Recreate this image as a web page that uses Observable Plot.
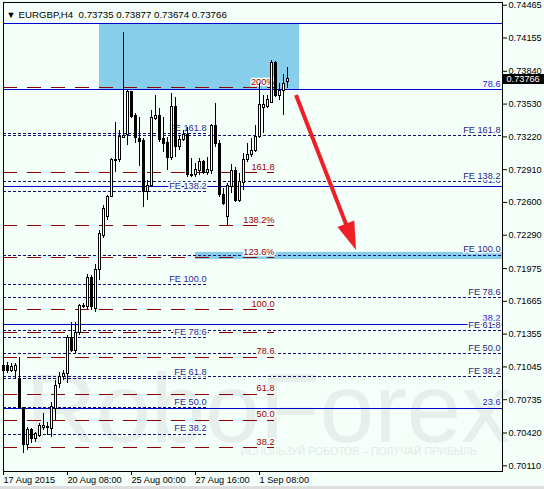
<!DOCTYPE html>
<html><head><meta charset="utf-8">
<script src="https://cdn.jsdelivr.net/npm/d3@7"></script>
<script src="https://cdn.jsdelivr.net/npm/@observablehq/plot@0.6"></script>
<style>
html,body{margin:0;padding:0;background:#dedede;}
#chart{width:544px;height:489px;overflow:hidden;}
svg{display:block;}
</style></head><body><div id="chart"></div>
<script>
// ---- candle data (EURGBP H4) ----
const opens = [0.71049,0.71052,0.71005,0.71005,0.70932,0.70658,0.70302,0.70444,0.70365,0.70396,
0.70469,0.70466,0.70460,0.70649,0.70879,0.70948,0.70980,0.71320,0.71200,0.71364,
0.71616,0.71610,0.71887,0.71594,0.71963,0.72287,0.72461,0.72656,0.73003,0.72997,
0.73211,0.73233,0.73643,0.73413,0.73201,0.73179,0.72697,0.72754,0.73390,0.73413,
0.73201,0.73160,0.73022,0.73501,0.73123,0.73192,0.73233,0.72864,0.72864,0.72902,
0.72981,0.72877,0.72896,0.73324,0.73154,0.72666,0.72461,0.72744,0.72896,0.72618,
0.72782,0.72997,0.73044,0.73085,0.73217,0.73495,0.73501,0.73539,0.73917,0.73611,
0.73658,0.73735];
const highs = [0.71090,0.71090,0.71080,0.71080,0.71137,0.70664,0.70475,0.70460,0.70428,0.70507,
0.70608,0.70523,0.70712,0.70917,0.70995,0.71011,0.71342,0.71468,0.71468,0.71635,
0.71641,0.71919,0.71909,0.72013,0.72335,0.72571,0.72666,0.73012,0.73359,0.73280,
0.74210,0.73658,0.73649,0.73438,0.73406,0.73201,0.72808,0.73469,0.73611,0.73485,
0.73406,0.73217,0.73627,0.73589,0.73233,0.73280,0.73312,0.73012,0.72965,0.73012,
0.72997,0.73028,0.73337,0.73532,0.73186,0.72729,0.72776,0.72959,0.72934,0.72871,
0.73060,0.73154,0.73201,0.73328,0.73722,0.73611,0.73611,0.73942,0.73936,0.73722,
0.73810,0.73877];
const lows = [0.70885,0.70980,0.70995,0.70932,0.70649,0.70229,0.70255,0.70318,0.70333,0.70381,
0.70444,0.70396,0.70381,0.70538,0.70838,0.70917,0.70885,0.71184,0.71169,0.71342,
0.71594,0.71585,0.71578,0.71563,0.71862,0.72256,0.72429,0.72650,0.72886,0.72981,
0.73201,0.73138,0.73390,0.73160,0.72940,0.72555,0.72618,0.72744,0.73375,0.73170,
0.73075,0.72902,0.72997,0.73028,0.73091,0.73179,0.72839,0.72839,0.72839,0.72855,
0.72864,0.72855,0.72864,0.73123,0.72650,0.72571,0.72382,0.72681,0.72603,0.72603,
0.72713,0.72981,0.73028,0.73075,0.73201,0.73249,0.73485,0.73532,0.73595,0.73564,
0.73422,0.73674];
const closes = [0.71005,0.71005,0.71043,0.71049,0.70658,0.70302,0.70444,0.70365,0.70412,0.70482,
0.70485,0.70478,0.70664,0.70869,0.70948,0.70980,0.71320,0.71200,0.71364,0.71619,
0.71622,0.71887,0.71610,0.71963,0.72297,0.72540,0.72650,0.73003,0.72990,0.73217,
0.73224,0.73649,0.73406,0.73211,0.73170,0.72697,0.72760,0.73400,0.73413,0.73186,
0.73154,0.73022,0.73507,0.73123,0.73195,0.73233,0.72855,0.72848,0.72908,0.72981,
0.72877,0.72908,0.73324,0.73154,0.72666,0.72587,0.72760,0.72896,0.72618,0.72792,
0.72997,0.73050,0.73085,0.73217,0.73517,0.73517,0.73564,0.73917,0.73611,0.73658,
0.73722,0.73766];

// ---- axes ----
const yTicks = [0.74465,0.74155,0.73840,0.73530,0.73220,0.72910,0.72600,0.72290,0.71975,0.71665,0.71355,0.71045,0.70735,0.70420,0.70110];
const xTickIdx = [0,16,32,48,64];
const xTickLabels = ["17 Aug 2015","20 Aug 08:00","25 Aug 00:00","27 Aug 16:00","1 Sep 08:00"];

// ---- Fibonacci retracement (blue solid) ----
const bluePrices = [0.74289,0.73665,0.72751,0.71446,0.70652];
const blueLabels = ["","78.6","61.8","38.2","23.6"];
// ---- Fibonacci expansion (red dashed) ----
const redPrices = [0.73684,0.72880,0.72379,0.72077,0.71585,0.71370,0.71137,0.70784,0.70538,0.70280];
const redLabels = ["200%","161.8","138.2%","123.6%","100.0","","78.6","61.8","50.0","38.2"];
// ---- FE levels (left, dotted) ----
const feLeftPrices = [0.73249,0.72701,0.71822,0.71320,0.70936,0.70658,0.70406];
const feLeftLabels = ["FE 161.8","FE 138.2","FE 100.0","FE 78.6","FE 61.8","FE 50.0","FE 38.2"];
// ---- FE levels (right, dotted, full width) ----
const feRightPrices = [0.73230,0.72795,0.72099,0.71700,0.71387,0.71171,0.70952];
const feRightLabels = ["FE 161.8","FE 138.2","FE 100.0","FE 78.6","FE 61.8","FE 50.0","FE 38.2"];
// ---- zones ----
const zoneStart = [24, 48];
const zoneEnd = [74.1, 124.75];
const zoneTop = [0.74289, 0.72130];
const zoneBottom = [0.73665, 0.72058];
// ---- forecast arrow ----
const arrowIdx = [73.25, 88.25];
const arrowPrice = [0.73611, 0.72146];

const BG = "#f5fffa";
const FONT = "'Liberation Sans', Arial, sans-serif";
const FS = 9.2;
const xMax = 124.75, redEnd = 67.75, feLeftEnd = 50.75, labelRight = 124.25;
const tagHalf = 0.00047;   // half height of the price tag, in price units (≈5px)
const tagWidth = 10.4;     // width of the price tag, in bar units (≈42px)

const candles = opens.map((o, i) => ({i, o, h: highs[i], l: lows[i], c: closes[i]}));
const last = candles[candles.length - 1];
const fmt = d3.format(".5f");
const NB = "\u00a0";
const titleStr = `EURGBP,H4${NB}${NB}${fmt(last.o)}${NB}${fmt(last.h)}${NB}${fmt(last.l)}${NB}${fmt(last.c)}`;

const zones = zoneStart.map((s, k) => ({x1: s, x2: zoneEnd[k], y1: zoneTop[k], y2: zoneBottom[k]}));
const blue = bluePrices.map((p, k) => ({p, t: blueLabels[k]}));
const red = redPrices.map((p, k) => ({p, t: redLabels[k]}));
const feL = feLeftPrices.map((p, k) => ({p, t: feLeftLabels[k]}));
const feR = feRightPrices.map((p, k) => ({p, t: feRightLabels[k]}));

const arrowColor = "#ee1f26";
function arrowMark(index, scales) {
  const x1 = scales.x(arrowIdx[0]), y1 = scales.y(arrowPrice[0]);
  const x2 = scales.x(arrowIdx[1]), y2 = scales.y(arrowPrice[1]);
  const dx = x2 - x1, dy = y2 - y1, len = Math.hypot(dx, dy);
  const ux = dx / len, uy = dy / len;
  const hl = 28, hw = 9;
  const bx = x2 - ux * hl, by = y2 - uy * hl;
  const g = d3.create("svg:g");
  g.append("line").attr("x1", x1).attr("y1", y1).attr("x2", bx + ux * 3).attr("y2", by + uy * 3)
    .attr("stroke", arrowColor).attr("stroke-width", 4);
  g.append("path").attr("d", `M${x2},${y2}L${bx - uy * hw},${by + ux * hw}L${bx + uy * hw},${by - ux * hw}Z`)
    .attr("fill", arrowColor);
  return g.node();
}

const crisp = {shapeRendering: "crispEdges"};
const plot = Plot.plot({
  width: 544, height: 486,
  marginLeft: 3, marginRight: 42, marginTop: 2, marginBottom: 15,
  x: {domain: [0, xMax], label: null},
  y: {domain: [0.700561, 0.744905], label: null},
  style: {background: BG, fontFamily: FONT, fontSize: FS + "px", color: "black", overflow: "visible"},
  marks: [
    // watermark
    Plot.text(["RoboForex"], {frameAnchor: "bottom-left", dx: 22, dy: -30, textAnchor: "start", lineAnchor: "bottom", fontSize: 98, fill: "#e6efeb", fontFamily: FONT}),
    Plot.text(["ИСПОЛЬЗУЙ РОБОТОВ – ПОЛУЧАЙ ПРИБЫЛЬ"], {frameAnchor: "bottom-left", dx: 237, dy: -17, textAnchor: "start", fontSize: 10.5, fill: "#e2eae6", fontFamily: FONT}),
    // zones
    Plot.rect(zones, {x1: "x1", x2: "x2", y1: "y1", y2: "y2", fill: "#87ceeb", ...crisp}),
    // levels
    Plot.ruleY(blue, {y: "p", stroke: "#0000cd", ...crisp}),
    Plot.ruleY(feR, {y: "p", stroke: "#10107a", strokeDasharray: "3,2", ...crisp}),
    Plot.ruleY(feL, {y: "p", x1: 0, x2: feLeftEnd, stroke: "#10107a", strokeDasharray: "3,2", ...crisp}),
    Plot.ruleY(red, {y: "p", x1: 0, x2: redEnd, stroke: "#8b0000", strokeDasharray: "14,10", ...crisp}),
    // labels
    Plot.text(blue, {x: labelRight, y: "p", text: "t", dy: -6, textAnchor: "end", fill: "#1c1cd0", stroke: BG, strokeWidth: 3}),
    Plot.text(feR, {x: labelRight, y: "p", text: "t", dy: -6, textAnchor: "end", fill: "#1f1f80", stroke: BG, strokeWidth: 3}),
    Plot.text(feL, {x: feLeftEnd, y: "p", text: "t", dy: -6, textAnchor: "end", fill: "#2a2a90", stroke: BG, strokeWidth: 3}),
    Plot.text(red, {x: redEnd, y: "p", text: "t", dy: -6, textAnchor: "end", fill: "#9a0000", stroke: BG, strokeWidth: 3}),
    // candles
    Plot.ruleX(candles, {x: "i", y1: "l", y2: "h", stroke: "black", ...crisp}),
    Plot.rect(candles.filter(d => d.c >= d.o), {x1: d => d.i - 0.25, x2: d => d.i + 0.25, y1: "o", y2: "c", fill: "white", stroke: "black", ...crisp}),
    Plot.rect(candles.filter(d => d.c < d.o), {x1: d => d.i - 0.25, x2: d => d.i + 0.25, y1: "o", y2: "c", fill: "black", stroke: "black", ...crisp}),
    // arrow
    arrowMark,
    // title
    Plot.text(["▼"], {frameAnchor: "top-left", dx: 3, dy: 9, textAnchor: "start", fontSize: 9, fill: "black"}),
    Plot.text([titleStr], {frameAnchor: "top-left", dx: 15, dy: 9, textAnchor: "start", fontSize: 9.7, fill: "black"}),
    // axes and frame
    Plot.axisY({anchor: "right", ticks: yTicks, tickFormat: fmt, tickSize: 4, tickPadding: 2, label: null}),
    Plot.axisX({anchor: "bottom", ticks: xTickIdx, tickFormat: d => xTickLabels[xTickIdx.indexOf(d)], tickSize: 4, tickPadding: 1, textAnchor: "start", label: null}),
    Plot.frame({stroke: "black"}),
    // current price tag
    Plot.rect([last], {x1: xMax + 0.25, x2: xMax + tagWidth, y1: d => d.c - tagHalf, y2: d => d.c + tagHalf, fill: "black", ...crisp}),
    Plot.text([last], {x: xMax, y: "c", text: d => fmt(d.c), dx: 4, textAnchor: "start", fill: "white"})
  ]
});

document.getElementById("chart").appendChild(plot);
</script>
</body></html>
